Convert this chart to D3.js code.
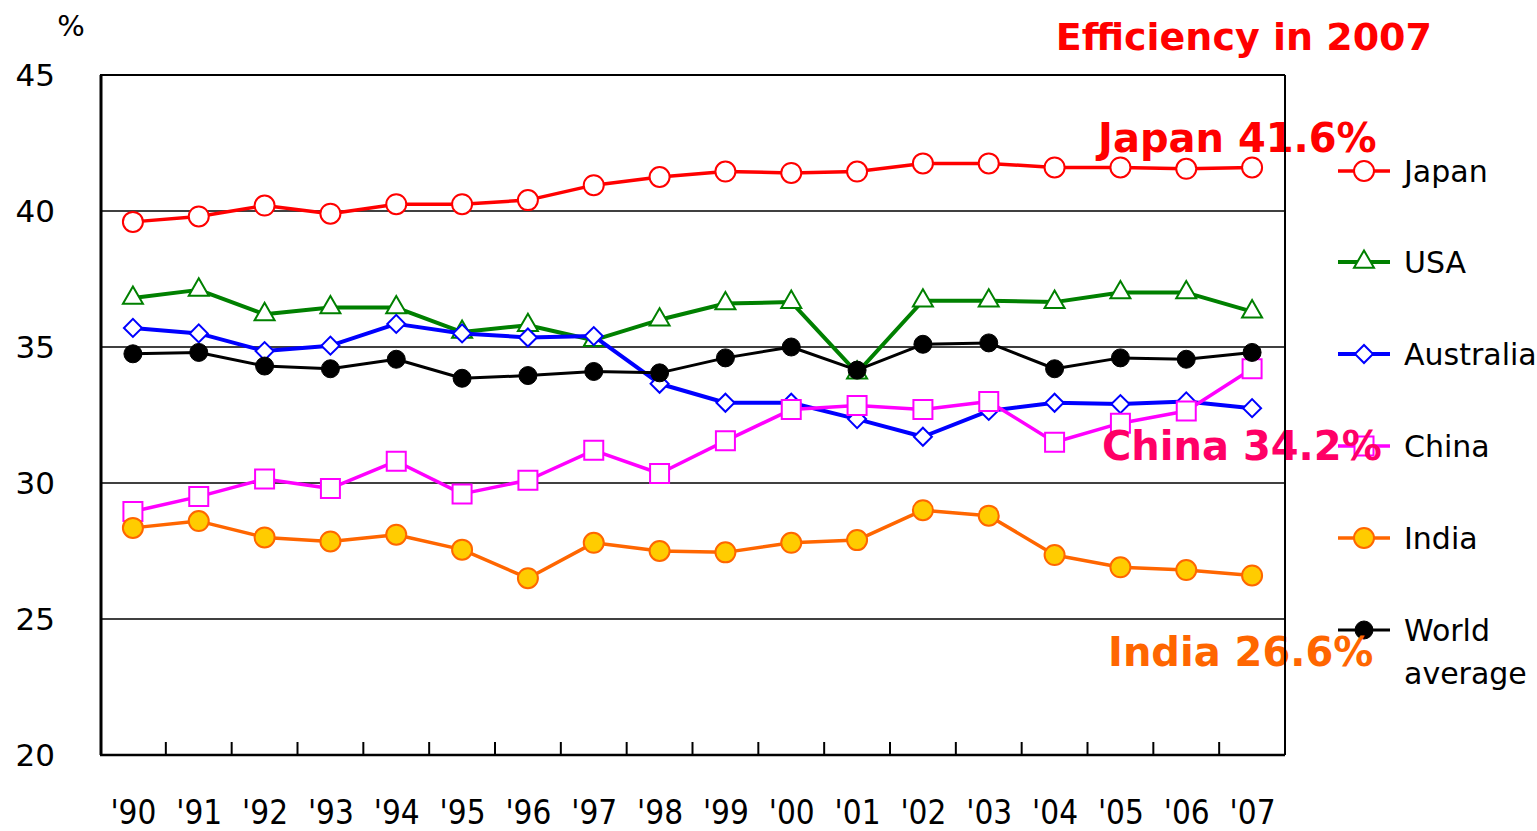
<!DOCTYPE html>
<html>
<head>
<meta charset="utf-8">
<script src="https://cdn.jsdelivr.net/npm/d3@7"></script>
<style>
  html, body { margin: 0; padding: 0; background: #fff; }
  svg { display: block; }
</style>
</head>
<body>
<svg id="chart" width="1537" height="831"></svg>
<script>
// Power generation efficiency by country, 1990–2007 (%)
const years = ["'90","'91","'92","'93","'94","'95","'96","'97","'98","'99","'00","'01","'02","'03","'04","'05","'06","'07"];
const yTicks = [20, 25, 30, 35, 40, 45];

const japan     = [39.6, 39.8, 40.2, 39.9, 40.25, 40.25, 40.4, 40.95, 41.25, 41.45, 41.4, 41.45, 41.75, 41.75, 41.6, 41.6, 41.55, 41.6];
const usa       = [36.8, 37.1, 36.2, 36.45, 36.45, 35.55, 35.8, 35.25, 36.0, 36.6, 36.65, 34.05, 36.7, 36.7, 36.65, 37.0, 37.0, 36.3];
const australia = [35.7, 35.5, 34.85, 35.05, 35.85, 35.5, 35.35, 35.4, 33.65, 32.95, 32.95, 32.35, 31.7, 32.65, 32.95, 32.9, 33.0, 32.75];
const china     = [28.95, 29.5, 30.15, 29.8, 30.8, 29.6, 30.1, 31.2, 30.35, 31.55, 32.7, 32.85, 32.7, 33.0, 31.5, 32.2, 32.65, 34.2];
const india     = [28.35, 28.6, 28.0, 27.85, 28.1, 27.55, 26.5, 27.8, 27.5, 27.45, 27.8, 27.9, 29.0, 28.8, 27.35, 26.9, 26.8, 26.6];
const world     = [34.75, 34.8, 34.3, 34.2, 34.55, 33.85, 33.95, 34.1, 34.05, 34.6, 35.0, 34.15, 35.1, 35.15, 34.2, 34.6, 34.55, 34.8];

const seriesNames = ["Japan", "USA", "Australia", "China", "India", "World average"];
const seriesValues = [japan, usa, australia, china, india, world];

const styles = {
  "Japan":         { stroke: "#ff0000", width: 3.5, marker: "circle",   r: 10,  fill: "#ffffff", mstroke: "#ff0000", mwidth: 2 },
  "USA":           { stroke: "#008000", width: 4,   marker: "triangle", r: 10,  fill: "#ffffff", mstroke: "#008000", mwidth: 2 },
  "Australia":     { stroke: "#0000ff", width: 4,   marker: "diamond",  r: 9,   fill: "#ffffff", mstroke: "#0000ff", mwidth: 2 },
  "China":         { stroke: "#ff00ff", width: 3.5, marker: "square",   r: 9.5, fill: "#ffffff", mstroke: "#ff00ff", mwidth: 2 },
  "India":         { stroke: "#ff6600", width: 3.5, marker: "circle",   r: 10,  fill: "#ffcc00", mstroke: "#ff6600", mwidth: 2 },
  "World average": { stroke: "#000000", width: 3,   marker: "circle",   r: 9,   fill: "#000000", mstroke: "#000000", mwidth: 1 }
};

const svg = d3.select("#chart");
const plot = { left: 100, right: 1285, top: 75, bottom: 755 };
const font = "'DejaVu Sans', sans-serif";

const xBand = d3.scaleBand().domain(years).range([plot.left, plot.right]);
const x = d3.scalePoint().domain(years).range([plot.left, plot.right]).padding(0.5);
const y = d3.scaleLinear().domain([20, 45]).range([plot.bottom, plot.top]);

// Horizontal grid lines
svg.append("g").selectAll("line")
  .data(yTicks.filter(t => t > 20))
  .join("line")
  .attr("x1", plot.left).attr("x2", plot.right)
  .attr("y1", d => y(d)).attr("y2", d => y(d))
  .attr("stroke", "#000").attr("stroke-width", d => d === 45 ? 2 : 1.6);

// Y tick labels
svg.append("g").selectAll("text")
  .data(yTicks)
  .join("text")
  .attr("x", 55).attr("y", d => y(d))
  .attr("dy", "0.36em")
  .attr("text-anchor", "end")
  .attr("font-family", font).attr("font-size", 31)
  .attr("fill", "#000")
  .text(d => d);

svg.append("text")
  .attr("x", 71).attr("y", 36)
  .attr("text-anchor", "middle")
  .attr("font-family", font).attr("font-size", 29)
  .text("%");

// X axis: labels at category centres
const xAxis = d3.axisBottom(x).tickSize(0).tickPadding(0);
const gx = svg.append("g").attr("transform", `translate(0,${plot.bottom})`).call(xAxis);
gx.select(".domain").remove();
gx.selectAll("text")
  .attr("y", 69)
  .attr("dy", 0)
  .attr("font-family", "'DejaVu Sans Condensed', 'DejaVu Sans', sans-serif")
  .attr("font-size", 33)
  .attr("fill", "#000");

// Tick marks between categories, pointing into the plot
svg.append("g").selectAll("line")
  .data(years.slice(1))
  .join("line")
  .attr("x1", d => xBand(d)).attr("x2", d => xBand(d))
  .attr("y1", plot.bottom).attr("y2", plot.bottom - 13)
  .attr("stroke", "#000").attr("stroke-width", 2);

// Symbol generator for markers
function markerPath(s) {
  if (s.marker === "circle") return d3.symbol(d3.symbolCircle, Math.PI * s.r * s.r)();
  if (s.marker === "triangle") {
    const side = s.r * 2;
    return d3.symbol(d3.symbolTriangle, Math.sqrt(3) / 4 * side * side)();
  }
  if (s.marker === "square") return d3.symbol(d3.symbolSquare, (s.r * 2) * (s.r * 2))();
  if (s.marker === "diamond") {
    const side = s.r * 2 / Math.SQRT2;
    return d3.symbol(d3.symbolSquare, side * side)();
  }
}
function markerRotate(s) { return s.marker === "diamond" ? " rotate(45)" : ""; }

const line = d3.line().x((d, i) => x(years[i])).y(d => y(d));

// Series lines and markers
const gSeries = svg.append("g");
seriesNames.forEach((name, k) => {
  const s = styles[name];
  const vals = seriesValues[k];
  const g = gSeries.append("g");
  g.append("path")
    .attr("d", line(vals))
    .attr("fill", "none")
    .attr("stroke", s.stroke)
    .attr("stroke-width", s.width)
    .attr("stroke-linejoin", "round");
  g.selectAll("path.m")
    .data(vals)
    .join("path")
    .attr("class", "m")
    .attr("d", markerPath(s))
    .attr("transform", (d, i) => `translate(${x(years[i])},${y(d)})${markerRotate(s)}`)
    .attr("fill", s.fill)
    .attr("stroke", s.mstroke)
    .attr("stroke-width", s.mwidth);
});

// Legend
const legendY = [171, 262, 354, 446, 538, 630];
const gLegend = svg.append("g");
seriesNames.forEach((name, k) => {
  const s = styles[name];
  const g = gLegend.append("g").attr("transform", `translate(0,${legendY[k]})`);
  g.append("line")
    .attr("x1", 1338).attr("x2", 1390)
    .attr("stroke", s.stroke).attr("stroke-width", s.width);
  g.append("path")
    .attr("d", markerPath(s))
    .attr("transform", `translate(1364,0)${markerRotate(s)}`)
    .attr("fill", s.fill).attr("stroke", s.mstroke).attr("stroke-width", s.mwidth);
  const t = g.append("text")
    .attr("x", 1404).attr("y", 0)
    .attr("font-family", font).attr("font-size", 30)
    .attr("fill", "#000");
  if (name === "World average") {
    t.append("tspan").attr("x", 1404).attr("dy", "0.36em").text("World");
    t.append("tspan").attr("x", 1404).attr("dy", "1.45em").text("average");
  } else {
    t.attr("dy", "0.36em").text(name);
  }
});

// Callouts for 2007 values
const callouts = [
  { text: "Efficiency in 2007", x: 1432, y: 50,  color: "#ff0000", anchor: "end", size: 38 },
  { text: `Japan ${japan[17].toFixed(1)}%`, x: 1098, y: 152, color: "#ff0000", anchor: "start", size: 40 },
  { text: `China ${china[17].toFixed(1)}%`, x: 1102, y: 460, color: "#ff0066", anchor: "start", size: 40 },
  { text: `India ${india[17].toFixed(1)}%`, x: 1108, y: 666, color: "#ff6600", anchor: "start", size: 40 }
];
svg.append("g").selectAll("text")
  .data(callouts)
  .join("text")
  .attr("x", d => d.x).attr("y", d => d.y)
  .attr("text-anchor", d => d.anchor)
  .attr("font-family", font).attr("font-size", d => d.size).attr("font-weight", "bold")
  .attr("fill", d => d.color)
  .text(d => d.text);

// Plot frame: left axis, bottom axis, right edge
svg.append("line").attr("x1", plot.left + 1).attr("x2", plot.left + 1)
  .attr("y1", plot.top).attr("y2", plot.bottom)
  .attr("stroke", "#000").attr("stroke-width", 3);
svg.append("line").attr("x1", plot.left).attr("x2", plot.right)
  .attr("y1", plot.bottom).attr("y2", plot.bottom)
  .attr("stroke", "#000").attr("stroke-width", 2.5);
svg.append("line").attr("x1", plot.right).attr("x2", plot.right)
  .attr("y1", plot.top).attr("y2", plot.bottom)
  .attr("stroke", "#000").attr("stroke-width", 2);
</script>
</body>
</html>
